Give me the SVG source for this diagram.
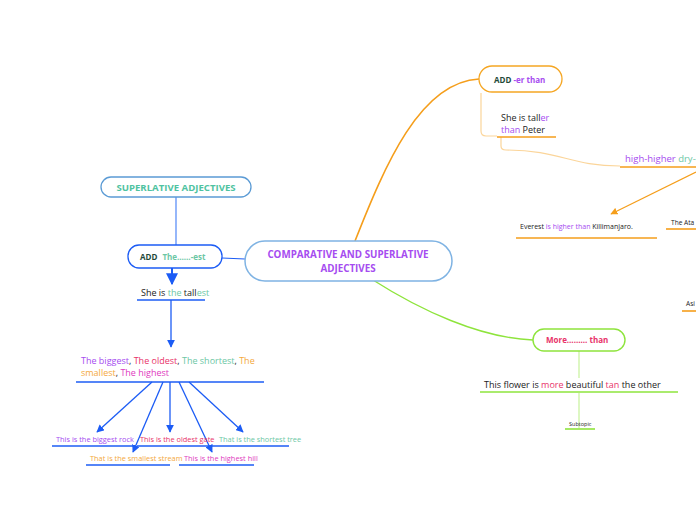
<svg xmlns="http://www.w3.org/2000/svg" width="696" height="520" viewBox="0 0 696 520">
<style>
text{font-family:"Open Sans","Noto Sans","DejaVu Sans",sans-serif;}
.b{font-weight:bold;}
.pu{fill:#a64cf0;}
.rd{fill:#e8336a;}
.tl{fill:#6cc7a5;}
.or{fill:#f4a93c;}
.mg{fill:#e03ac0;}
.dk{fill:#222;}
.dg{fill:#1f4a3a;}
.blue{stroke:#1c5cf5;fill:none;stroke-width:1.3;}
.ul-b{stroke:#1c5cf5;stroke-width:1.6;}
.ul-o{stroke:#f59e1b;stroke-width:1.6;}
.ul-g{stroke:#8ee43c;stroke-width:1.6;}
</style>
<defs>
<marker id="ab" viewBox="0 0 10 10" refX="9" refY="5" markerWidth="6" markerHeight="6" orient="auto"><path d="M0,0 L10,5 L0,10 z" fill="#1c5cf5"/></marker>
<marker id="ao" viewBox="0 0 10 10" refX="9" refY="5" markerWidth="6" markerHeight="6" orient="auto"><path d="M0,0 L10,5 L0,10 z" fill="#f59e1b"/></marker>
</defs>
<rect width="696" height="520" fill="#fff"/>
<g id="connectors">
<path d="M355,241 C385,165 420,82 479,79" stroke="#f59e1b" stroke-width="1.6" fill="none"/>
<path d="M373,280 C420,310 480,338 533,340" stroke="#8ee43c" stroke-width="1.4" fill="none"/>
<line x1="222" y1="258" x2="245" y2="259" stroke="#1c5cf5" stroke-width="1.2"/>
<line x1="176" y1="197" x2="176" y2="245" stroke="#4f86f7" stroke-width="1.2"/>
<line x1="172" y1="268" x2="172" y2="284" stroke="#1c5cf5" stroke-width="2" marker-end="url(#ab)"/>
<line x1="171" y1="300" x2="171" y2="347" class="blue" marker-end="url(#ab)"/>
<line x1="152" y1="382" x2="97" y2="432" class="blue" marker-end="url(#ab)"/>
<line x1="163" y1="382" x2="133" y2="452" class="blue" marker-end="url(#ab)"/>
<line x1="170" y1="382" x2="170" y2="432" class="blue" marker-end="url(#ab)"/>
<line x1="179" y1="382" x2="212" y2="452" class="blue" marker-end="url(#ab)"/>
<line x1="189" y1="382" x2="243" y2="432" class="blue" marker-end="url(#ab)"/>
<path d="M481,93 L481,131 Q481,136 486,136 L497,136" stroke="#fbd59a" stroke-width="1.2" fill="none"/>
<path d="M501,137 L501,146 Q501,150 506,150 C560,150 570,166 620,166" stroke="#fbd59a" stroke-width="1.2" fill="none"/>
<line x1="696" y1="172" x2="611" y2="214" stroke="#f59e1b" stroke-width="1.2" marker-end="url(#ao)"/>
<line x1="579" y1="351" x2="579" y2="378" stroke="#c6f29a" stroke-width="1.2"/>
<line x1="579" y1="393" x2="579" y2="428" stroke="#c6f29a" stroke-width="1.2"/>
</g>
<g id="central">
<rect x="245" y="241" width="207" height="40" rx="20" fill="#fff" stroke="#7fb3e3" stroke-width="1.5"/>
<text x="348" y="258" text-anchor="middle" font-size="9.8" class="b pu">COMPARATIVE AND SUPERLATIVE</text>
<text x="348" y="272" text-anchor="middle" font-size="9.8" class="b pu">ADJECTIVES</text>
</g>
<g id="superlative">
<rect x="101" y="177" width="150" height="20" rx="10" fill="#fff" stroke="#5b9bd5" stroke-width="1.3"/>
<text x="176" y="191" text-anchor="middle" font-size="9.6" class="b" fill="#4fc3a1">SUPERLATIVE ADJECTIVES</text>
</g>
<g id="add-est">
<rect x="128" y="245" width="94" height="23" rx="11" fill="#fff" stroke="#1c5cf5" stroke-width="1.3"/>
<text x="140" y="260" font-size="8" class="b"><tspan class="dg">ADD</tspan><tspan class="tl" dx="5">The……-est</tspan></text>
</g>
<g id="tallest">
<text x="141" y="296" font-size="9" class="dk">She is <tspan class="tl">the</tspan> tall<tspan class="tl">est</tspan></text>
<line x1="137" y1="300" x2="205" y2="300" class="ul-b"/>
</g>
<g id="examples">
<text x="81" y="364" font-size="9"><tspan class="pu">The biggest</tspan><tspan class="dk">, </tspan><tspan class="rd">The oldest</tspan><tspan class="dk">, </tspan><tspan class="tl">The shortest</tspan><tspan class="dk">, </tspan><tspan class="or">The</tspan></text>
<text x="81" y="376" font-size="9"><tspan class="or">smallest</tspan><tspan class="dk">, </tspan><tspan class="mg">The highest</tspan></text>
<line x1="76" y1="382" x2="264" y2="382" class="ul-b"/>
</g>
<g id="biggest-rock">
<text x="56" y="442" font-size="7.4" class="pu">This is the biggest rock</text>
<line x1="52" y1="446" x2="135" y2="446" class="ul-b"/>
</g>
<g id="oldest-gate">
<text x="140" y="442" font-size="7.4" class="rd">This is the oldest gate</text>
<line x1="137" y1="446" x2="216" y2="446" class="ul-b"/>
</g>
<g id="shortest-tree">
<text x="219" y="442" font-size="7.4" class="tl">That is the shortest tree</text>
<line x1="216" y1="446" x2="289" y2="446" class="ul-b"/>
</g>
<g id="smallest-stream">
<text x="90" y="461" font-size="7.4" class="or">That is the smallest stream</text>
<line x1="86" y1="465" x2="170" y2="465" class="ul-b"/>
</g>
<g id="highest-hill">
<text x="184" y="461" font-size="7.4" class="mg">This is the highest hill</text>
<line x1="179" y1="465" x2="254" y2="465" class="ul-b"/>
</g>
<g id="add-er">
<rect x="479" y="66" width="83" height="26" rx="13" fill="#fff" stroke="#f5a623" stroke-width="1.3"/>
<text x="494" y="83" font-size="8" class="b"><tspan class="dg">ADD</tspan><tspan class="pu"> -er than</tspan></text>
</g>
<g id="taller">
<text x="501" y="121" font-size="9" class="dk">She is tall<tspan class="pu">er</tspan></text>
<text x="501" y="133" font-size="9"><tspan class="pu">than</tspan><tspan class="dk"> Peter</tspan></text>
<line x1="497" y1="137" x2="556" y2="137" class="ul-o"/>
</g>
<g id="high-higher">
<text x="625" y="162" font-size="9.5"><tspan class="pu">high-higher</tspan><tspan class="tl"> dry-d</tspan></text>
<line x1="620" y1="167" x2="696" y2="167" class="ul-o"/>
</g>
<g id="everest">
<text x="520" y="229" font-size="7" class="dk">Everest <tspan class="pu">is higher than</tspan> Killimanjaro.</text>
<line x1="516" y1="238" x2="657" y2="238" class="ul-o"/>
</g>
<g id="atacama">
<text x="671" y="225" font-size="6.6" class="dk">The Ata</text>
<line x1="666" y1="229" x2="696" y2="229" class="ul-o"/>
</g>
<g id="asia">
<text x="686" y="306" font-size="6.6" class="dk">Asi</text>
<line x1="682" y1="311" x2="696" y2="311" class="ul-o"/>
</g>
<g id="more-than">
<rect x="533" y="329" width="92" height="22" rx="11" fill="#fff" stroke="#8ee43c" stroke-width="1.4"/>
<text x="546" y="343" font-size="8" class="b rd">More……… than</text>
</g>
<g id="flower">
<text x="484" y="388" font-size="9" class="dk">This flower is <tspan class="rd">more</tspan> beautiful <tspan class="rd">tan</tspan> the other</text>
<line x1="480" y1="392" x2="678" y2="392" class="ul-g"/>
</g>
<g id="subtopic">
<text x="569" y="426" font-size="5.5" class="dk">Subtopic</text>
<line x1="565" y1="429" x2="595" y2="429" class="ul-g"/>
</g>
</svg>
